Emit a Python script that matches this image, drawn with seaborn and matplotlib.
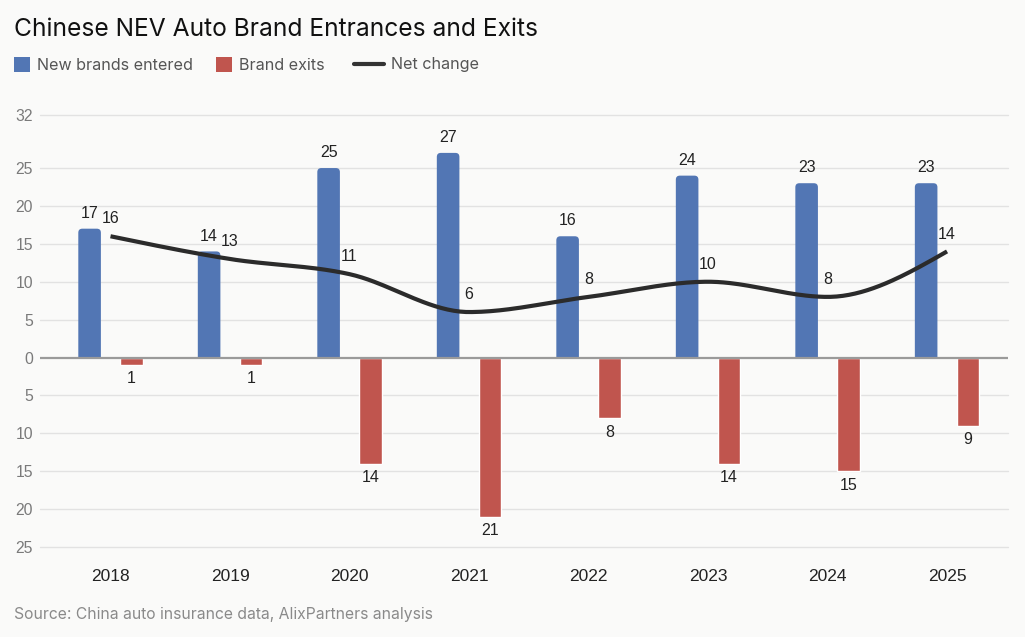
import numpy as np
import pandas as pd
import matplotlib.pyplot as plt
import seaborn as sns
from matplotlib.patches import Patch, FancyBboxPatch, Rectangle
from matplotlib.lines import Line2D

# data
years = ['2018', '2019', '2020', '2021', '2022', '2023', '2024', '2025']
entered = [17, 14, 25, 27, 16, 24, 23, 23]
exits = [1, 1, 14, 21, 8, 14, 15, 9]
net = [16, 13, 11, 6, 8, 10, 8, 14]

BLUE = '#5276b4'
RED = '#c0554e'
BG = '#fafaf9'

sns.set_theme(style='white')
plt.rcParams['font.family'] = ['Liberation Sans', 'DejaVu Sans']

df = pd.DataFrame({
    'year': years * 2,
    'value': entered + [-e for e in exits],
    'series': ['New brands entered'] * len(years) + ['Brand exits'] * len(years),
})


def monotone_x(xs, ys, n=40):
    # d3 curveMonotoneX style smoothing, only for drawing the line
    xs = np.asarray(xs, float)
    ys = np.asarray(ys, float)
    h = np.diff(xs)
    s = np.diff(ys) / h
    m = np.zeros_like(ys)
    for i in range(1, len(ys) - 1):
        if s[i - 1] * s[i] <= 0:
            m[i] = 0
        else:
            p = (s[i - 1] * h[i] + s[i] * h[i - 1]) / (h[i - 1] + h[i])
            m[i] = (np.sign(s[i - 1]) + np.sign(s[i])) * min(abs(s[i - 1]), abs(s[i]), 0.5 * abs(p))
    m[0] = (3 * s[0] - m[1]) / 2
    m[-1] = (3 * s[-1] - m[-2]) / 2
    px, py = [], []
    for i in range(len(xs) - 1):
        t = np.linspace(0, 1, n)
        h00 = 2 * t**3 - 3 * t**2 + 1
        h10 = t**3 - 2 * t**2 + t
        h01 = -2 * t**3 + 3 * t**2
        h11 = t**3 - t**2
        px.extend(xs[i] + t * h[i])
        py.extend(h00 * ys[i] + h10 * h[i] * m[i] + h01 * ys[i + 1] + h11 * h[i] * m[i + 1])
    return np.array(px), np.array(py)


fig = plt.figure(figsize=(10.25, 6.37), dpi=100, facecolor=BG)
ax = fig.add_axes([40 / 1025, 1 - 547 / 637, 968 / 1025, 432 / 637])
ax.set_facecolor(BG)

sns.barplot(data=df, x='year', y='value', hue='series',
            palette=[BLUE, RED], saturation=1, width=0.7, gap=0.46, dodge=True,
            errorbar=None, legend=False, ax=ax, zorder=2)

ax.set_xlim(-0.59, 7.51)
ax.set_ylim(-25, 32)

# round the top corners of the positive bars
xu = 8.10 / 968   # data units per px in x
yu = 57 / 432     # data units per px in y
r_px = 4
for p in list(ax.patches):
    h = p.get_height()
    if h > 0:
        x0, w = p.get_x(), p.get_width()
        fb = FancyBboxPatch((x0, -r_px * yu), w, h + r_px * yu,
                            boxstyle=f'round,pad=0,rounding_size={r_px * xu}',
                            mutation_aspect=yu / xu,
                            facecolor=p.get_facecolor(), edgecolor='none', zorder=2)
        ax.add_patch(fb)
        fb.set_clip_path(Rectangle((x0 - 1, 0), w + 2, 40, transform=ax.transData))
        p.remove()

# net change smooth line
xs = np.arange(len(years))
cx, cy = monotone_x(xs, net)
ax.plot(cx, cy, color='#2b2b2b', lw=3, solid_capstyle='butt', zorder=4)

yt = [-25, -20, -15, -10, -5, 0, 5, 10, 15, 20, 25, 32]
ax.set_yticks(yt)
ax.set_yticklabels([str(abs(v)) for v in yt])
ax.tick_params(axis='y', length=0, pad=5, labelsize=11.3, labelcolor='#7a7a7a')
ax.tick_params(axis='x', length=0, pad=16, labelsize=12.5, labelcolor='#222222')
ax.set_xlabel('')
ax.set_ylabel('')
for s in ax.spines.values():
    s.set_visible(False)
for v in yt:
    if v != 0:
        ax.axhline(v, color='#e2e2e2', lw=1, zorder=0, clip_on=False)
ax.axhline(0, color='#9a9a9a', lw=1.6, zorder=3)

# value labels
for i in range(len(years)):
    ax.annotate(str(entered[i]), (i - 0.175, entered[i]), xytext=(0, 11),
                textcoords='offset points', ha='center', va='center',
                fontsize=11.5, color='#222222', zorder=5)
    ax.annotate(str(exits[i]), (i + 0.175, -exits[i]), xytext=(0, -10),
                textcoords='offset points', ha='center', va='center',
                fontsize=11.5, color='#222222', zorder=5)
    ax.annotate(str(net[i]), (i, net[i]), xytext=(0, 12.5),
                textcoords='offset points', ha='center', va='center',
                fontsize=11.5, color='#222222', zorder=5)

# title, legend, source
fig.text(14 / 1025, 1 - 30 / 637, 'Chinese NEV Auto Brand Entrances and Exits',
         fontsize=17.7, color='#111111', va='center', ha='left', family=['Inter', 'DejaVu Sans'])
leg_font = {'family': ['Inter', 'DejaVu Sans'], 'size': 11.6}
bar_handles = [Patch(facecolor=BLUE, edgecolor='none'),
               Patch(facecolor=RED, edgecolor='none')]
leg1 = fig.legend(bar_handles, ['New brands entered', 'Brand exits'],
                  loc='center left', bbox_to_anchor=(-1 / 1025, 1 - 65 / 637), ncol=2,
                  frameon=False, handlelength=1.0, handleheight=1.0, handletextpad=0.45,
                  columnspacing=1.45, prop=leg_font, labelcolor='#555555')
fig.legend([Line2D([0], [0], color='#333333', lw=3)], ['Net change'],
           loc='center left', bbox_to_anchor=(339 / 1025, 1 - 65 / 637),
           frameon=False, handlelength=1.9, handletextpad=0.45,
           prop=leg_font, labelcolor='#555555')
fig.text(14 / 1025, 1 - 614 / 637, 'Source: China auto insurance data, AlixPartners analysis',
         fontsize=11.3, color='#8a8a8a', va='center', ha='left', family=['Inter', 'DejaVu Sans'])

fig.savefig('out.png', dpi=100, facecolor=BG)
